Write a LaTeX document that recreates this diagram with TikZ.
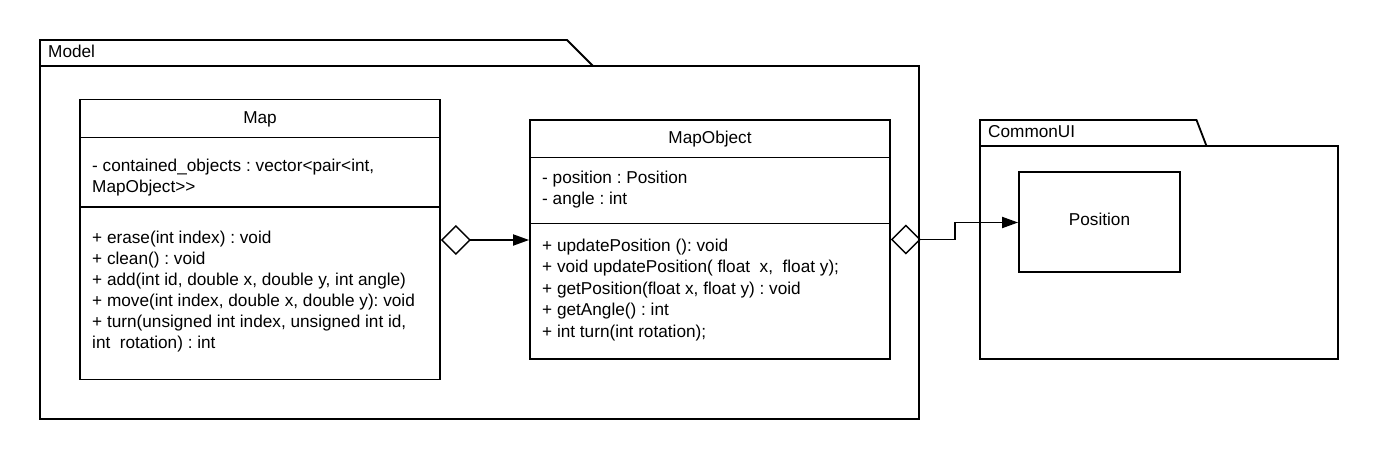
\documentclass[tikz,border=0pt]{standalone}
\usepackage{fontspec}
\setmainfont{Liberation Sans}
\usetikzlibrary{arrows.meta}
\begin{document}
\begin{tikzpicture}[x=1pt,y=-1pt,
  line join=miter,
  boxline/.style={draw=black,line width=1.8pt},
  classbox/.style={boxline,rectangle,inner sep=0pt,fill=white},
  txt/.style={inner sep=0pt,font=\fontsize{17.2}{20.9}\selectfont\frenchspacing},
  lbl/.style={txt,anchor=base west},
  ttl/.style={txt,anchor=base},
  conn/.style={line width=1.8pt,draw=black},
  aggr/.style={conn,{Diamond[open,length=30pt,width=30pt,line width=1.4pt]}-{Triangle[length=16pt,width=11pt]}}
]
\useasboundingbox (0,0) rectangle (1380,460);
% Model package
\draw[boxline] (40,66) -- (40,40) -- (567,40) -- (593,66);
\node[classbox,minimum width=879pt,minimum height=353pt] (model) at (479.5,242.5) {};
\node[lbl] (modellbl) at (48,57) {Model};
% CommonUI package
\draw[boxline] (980,146) -- (980,120) -- (1196.5,120) -- (1206.5,146);
\node[classbox,minimum width=358pt,minimum height=213pt] (common) at (1159,252.5) {};
\node[lbl] (commonlbl) at (988,137.5) {CommonUI};
% Map class
\node[classbox,minimum width=360pt,minimum height=280pt] (map) at (260,239.5) {};
\draw[boxline] (map.west |- 0,137.5) -- (map.east |- 0,137.5);
\draw[boxline] (map.west |- 0,207) -- (map.east |- 0,207);
\node[ttl] (maptitle) at (260,123) {Map};
\node[lbl] (ma1) at (92,171.5) {- contained\_objects : vector<pair<int,};
\node[lbl] (ma2) at (92,192.5) {MapObject>{}>};
\node[lbl] (mm1) at (92,243) {+ erase(int index) : void};
\node[lbl] (mm2) at (92,264) {+ clean() : void};
\node[lbl] (mm3) at (92,285) {+ add(int id, double x, double y, int angle)};
\node[lbl] (mm4) at (92,306) {+ move(int index, double x, double y): void};
\node[lbl] (mm5) at (92,327) {+ turn(unsigned int index, unsigned int id,};
\node[lbl] (mm6) at (92,348) {int\ \ rotation) : int};
% MapObject class
\node[classbox,minimum width=360pt,minimum height=239pt] (mapobj) at (710,239.5) {};
\draw[boxline] (mapobj.west |- 0,157.5) -- (mapobj.east |- 0,157.5);
\draw[boxline] (mapobj.west |- 0,223.5) -- (mapobj.east |- 0,223.5);
\node[ttl] (motitle) at (710,143) {MapObject};
\node[lbl] (oa1) at (542,183) {- position : Position};
\node[lbl] (oa2) at (542,204.5) {- angle : int};
\node[lbl] (om1) at (542,251) {+ updatePosition (): void};
\node[lbl] (om2) at (542,272.5) {+ void updatePosition( float\ \ x,\ \ float y);};
\node[lbl] (om3) at (542,294) {+ getPosition(float x, float y) : void};
\node[lbl] (om4) at (542,315.5) {+ getAngle() : int};
\node[lbl] (om5) at (542,337) {+ int turn(int rotation);};
% Position class
\node[classbox,minimum width=161pt,minimum height=100pt] (pos) at (1099.5,222) {};
\node[ttl] (postitle) at (1099.5,225.5) {Position};
% connectors
\coordinate (ya) at (0,240);
\coordinate (yb) at (0,239.5);
\coordinate (yc) at (0,222.5);
\coordinate (bend1) at (955,239.5);
\coordinate (bend2) at (955,222.5);
\draw[aggr] (map.east |- ya) -- (mapobj.west |- ya);
\draw[aggr] (mapobj.east |- yb) -- (bend1) -- (bend2) -- (pos.west |- yc);
\end{tikzpicture}
\end{document}
